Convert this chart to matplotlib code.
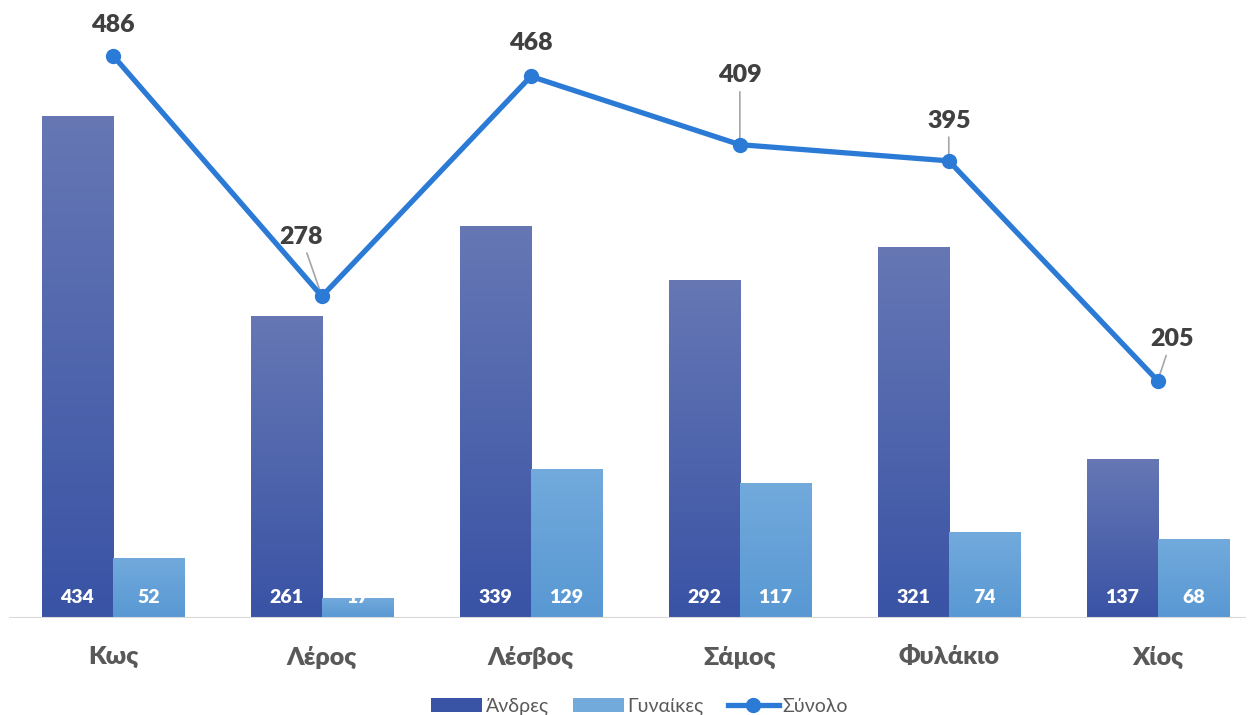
import numpy as np
import matplotlib.pyplot as plt
from matplotlib.colors import LinearSegmentedColormap
from matplotlib.patches import Patch
from matplotlib.lines import Line2D

plt.rcParams['font.family'] = ['Lato', 'DejaVu Sans']

categories = ['Κως', 'Λέρος', 'Λέσβος', 'Σάμος', 'Φυλάκιο', 'Χίος']
men = [434, 261, 339, 292, 321, 137]
women = [52, 17, 129, 117, 74, 68]
total = [486, 278, 468, 409, 395, 205]
series_names = ['Άνδρες', 'Γυναίκες', 'Σύνολο']

# label offsets (points) for the total labels, and whether a leader line is drawn
total_offsets = [(0, 22), (-15, 43), (0, 24), (0, 50), (0, 29), (10, 30)]
total_leader = [False, True, False, True, True, True]

dark_top, dark_bot = '#6677B4', '#3953A5'
light_top, light_bot = '#72AADC', '#5898D3'
line_color = '#2B7BD6'

fig = plt.figure(figsize=(12.52, 7.15), dpi=100)
ax = fig.add_axes([8.5 / 1252, 97 / 715, 1237 / 1252, 618 / 715])

x = np.arange(len(categories))
w = 0.34
bars_m = ax.bar(x - w / 2, men, w, color='none', zorder=2)
bars_w = ax.bar(x + w / 2, women, w, color='none', zorder=2)

grad = np.linspace(0, 1, 256).reshape(-1, 1)
for bars, top, bot in [(bars_m, dark_top, dark_bot), (bars_w, light_top, light_bot)]:
    cmap = LinearSegmentedColormap.from_list('g', [top, bot])
    for p in bars:
        x0, y0 = p.get_x(), p.get_y()
        im = ax.imshow(grad, cmap=cmap, aspect='auto', origin='upper',
                       extent=[x0, x0 + p.get_width(), y0, y0 + p.get_height()], zorder=2)
        im.set_clip_path(p)

ax.plot(x, total, color=line_color, lw=3.8, marker='o', markersize=10, zorder=4)

for bars, vals in [(bars_m, men), (bars_w, women)]:
    for p, v in zip(bars, vals):
        ax.annotate(str(v), (p.get_x() + p.get_width() / 2, 0), xytext=(0, 15),
                    textcoords='offset points', ha='center', va='center',
                    color='white', fontsize=14, fontweight='heavy', zorder=5)

for xi, v, off, lead in zip(x, total, total_offsets, total_leader):
    ax.annotate(str(v), (xi, v), xytext=off, textcoords='offset points',
                ha='center', va='center', color='#404040', fontsize=18, fontweight='heavy',
                arrowprops=dict(arrowstyle='-', color='#A6A6A6', lw=1.2, shrinkA=2, shrinkB=2) if lead else None,
                zorder=3)

ax.set_xlim(-0.5, 5.42)
ax.set_ylim(0, 534)
ax.axhline(0, color='#D9D9D9', lw=1.5, zorder=3)
for s in ax.spines.values():
    s.set_visible(False)
ax.set_yticks([])
ax.set_xticks(x)
ax.set_xticklabels(categories, fontsize=18, fontweight='heavy', color='#595959')
ax.tick_params(axis='x', length=0, pad=20)

handles = [Patch(facecolor=dark_bot), Patch(facecolor=light_top),
           Line2D([0], [0], color=line_color, lw=3.8, marker='o', markersize=10)]
fig.legend(handles, series_names, loc='lower center', ncol=3, frameon=False,
           fontsize=14, labelcolor='#595959', bbox_to_anchor=(0.511, -0.025),
           handlelength=2.6, columnspacing=1.25, handletextpad=0.2)

fig.savefig('out.png', dpi=100)
